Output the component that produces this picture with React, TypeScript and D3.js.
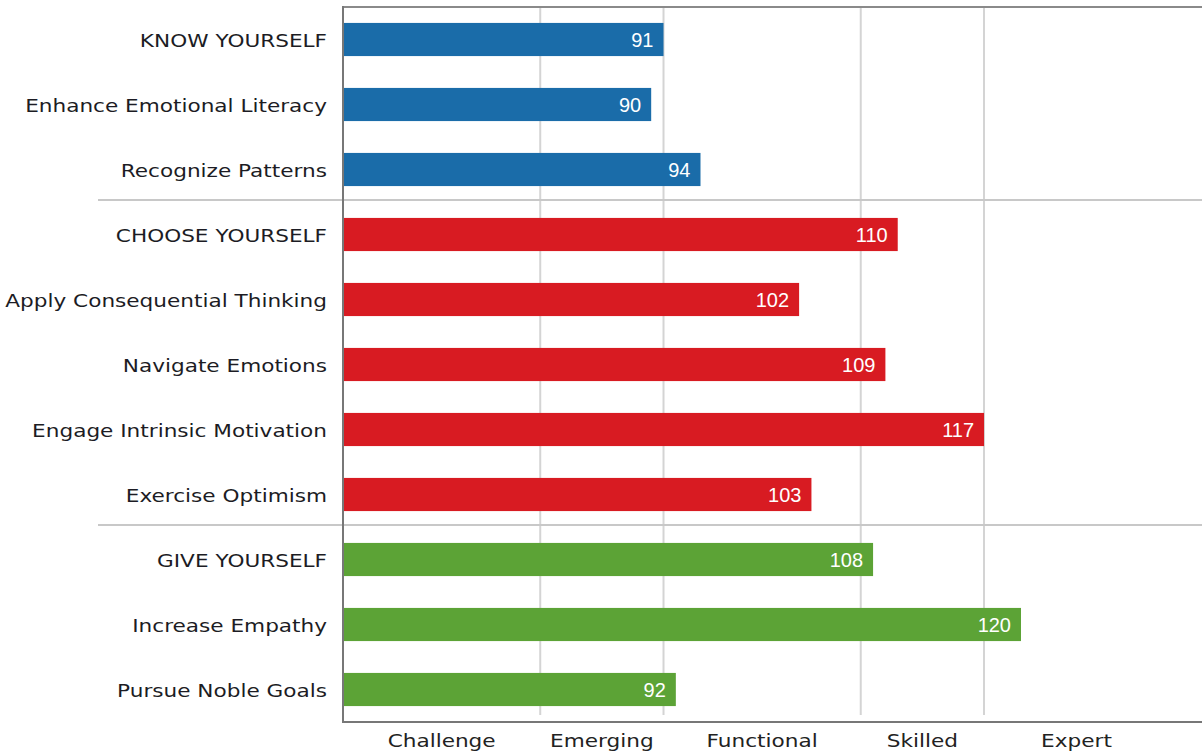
import React from 'react';
import * as d3 from 'd3';

const skills = [
  'KNOW YOURSELF',
  'Enhance Emotional Literacy',
  'Recognize Patterns',
  'CHOOSE YOURSELF',
  'Apply Consequential Thinking',
  'Navigate Emotions',
  'Engage Intrinsic Motivation',
  'Exercise Optimism',
  'GIVE YOURSELF',
  'Increase Empathy',
  'Pursue Noble Goals',
];
const scores = [91, 90, 94, 110, 102, 109, 117, 103, 108, 120, 92];
const groups = ['know', 'know', 'know', 'choose', 'choose', 'choose', 'choose', 'choose', 'give', 'give', 'give'];
const GROUP_COLORS: Record<string, string> = { know: '#1a6ca9', choose: '#d81b22', give: '#5ca336' };

// band edges on the score scale: gridlines sit on the inner ones
const levelEdges = [65, 81, 91, 107, 117, 132];
const levelLabels = ['Challenge', 'Emerging', 'Functional', 'Skilled', 'Expert'];
// separator lines go after these row indexes
const groupBreaks = [2, 7];

const W = 1202;
const H = 751;
const LABEL_FONT = '"DejaVu Sans", Verdana, sans-serif';
const STRETCH = 1.2;

export default function App() {
  const x = d3.scaleLinear().domain([65, 120]).range([343, 1021]);
  const y = d3.scaleBand<string>().domain(skills).range([7, 722]).paddingInner(0.49).paddingOuter(0.245);
  const step = y.step();
  const top = 7;
  const bottom = 722;

  return (
    <div style={{ position: 'absolute', left: 0, top: 0 }}>
      <svg width={W} height={H} style={{ display: 'block', background: '#fff' }}>
        {/* gridlines */}
        {levelEdges.slice(1, -1).map(v => (
          <line key={v} x1={x(v)} x2={x(v)} y1={top} y2={bottom - 7} stroke="#d4d4d4" strokeWidth={2} />
        ))}

        {/* group separators */}
        {groupBreaks.map(i => {
          const yy = (y(skills[i]) ?? 0) + y.bandwidth() + (step - y.bandwidth()) / 2 - 2;
          return <line key={i} x1={98} x2={W} y1={yy} y2={yy} stroke="#c8c8c8" strokeWidth={2} />;
        })}

        {/* bars */}
        {skills.map((s, i) => (
          <g key={s}>
            <rect
              x={x(65)}
              y={y(s)}
              width={x(scores[i]) - x(65)}
              height={y.bandwidth()}
              fill={GROUP_COLORS[groups[i]]}
            />
            <text
              x={x(scores[i]) - 10}
              y={(y(s) ?? 0) + y.bandwidth() / 2 + 7.5}
              textAnchor="end"
              fill="#fff"
              fontFamily='"Liberation Sans", Arial, sans-serif'
              fontSize={20}
            >
              {scores[i]}
            </text>
          </g>
        ))}

        {/* frame */}
        <line x1={343} x2={W} y1={top} y2={top} stroke="#8a8a8a" strokeWidth={2} />
        <line x1={343} x2={W} y1={bottom} y2={bottom} stroke="#777" strokeWidth={2} />
        <line x1={343} x2={343} y1={top - 1} y2={bottom + 1} stroke="#777" strokeWidth={2} />

        {/* row labels */}
        {skills.map(s => (
          <g key={s} transform={`translate(327,${(y(s) ?? 0) + y.bandwidth() / 2 + 7}) scale(${STRETCH},1)`}>
            <text textAnchor="end" fill="#1c1c24" fontFamily={LABEL_FONT} fontSize={18}>
              {s}
            </text>
          </g>
        ))}

        {/* level labels */}
        {levelLabels.map((l, i) => (
          <g key={l} transform={`translate(${(x(levelEdges[i]) + x(levelEdges[i + 1])) / 2},747) scale(${STRETCH},1)`}>
            <text textAnchor="middle" fill="#222" fontFamily={LABEL_FONT} fontSize={18}>
              {l}
            </text>
          </g>
        ))}
      </svg>
    </div>
  );
}
